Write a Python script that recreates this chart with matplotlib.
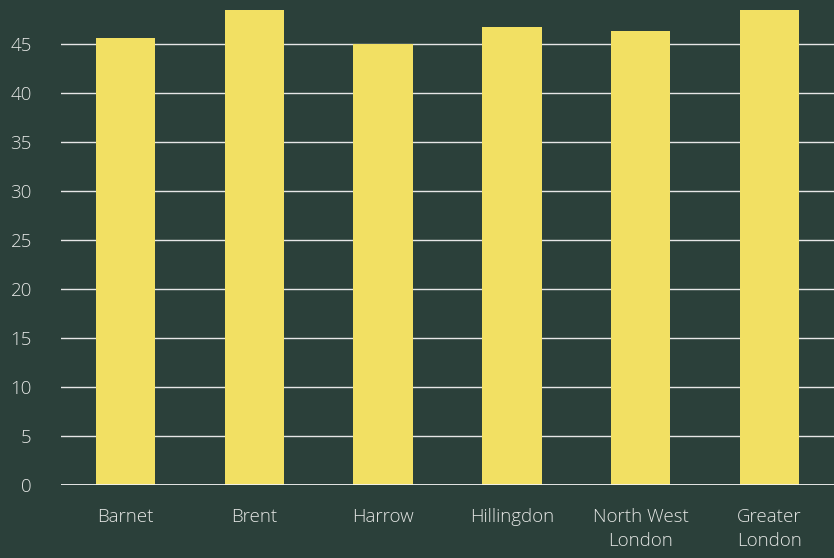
import matplotlib
matplotlib.use("Agg")
import matplotlib.pyplot as plt

areas = ["Barnet", "Brent", "Harrow", "Hillingdon", "North West\nLondon", "Greater\nLondon"]
values = [45.6, 49.5, 45.0, 46.8, 46.4, 49.5]
yticks = [0, 5, 10, 15, 20, 25, 30, 35, 40, 45]

bg = "#2b403a"
bar_color = "#f2e063"
text_color = "#e4e6e4"

plt.rcParams["font.family"] = ["Open Sans", "DejaVu Sans"]

fig = plt.figure(figsize=(8.34, 5.58), dpi=100, facecolor=bg)
ax = fig.add_axes([61 / 834, 1 - 484.5 / 558, 1 - 61 / 834, (484.5 - 10) / 558])
ax.set_facecolor(bg)

x = list(range(len(areas)))
ax.bar(x, values, width=0.46, color=bar_color, zorder=3)

ax.set_xlim(-0.5, len(areas) - 0.5)
ax.set_ylim(0, 48.5)
ax.set_yticks(yticks)
ax.set_yticklabels([str(t) for t in yticks])
ax.set_xticks(x)
ax.set_xticklabels(areas, linespacing=1.45)

ax.grid(axis="y", color="#e6e6e6", linewidth=1.0, zorder=1)
ax.axhline(0, color="#f2f2f2", linewidth=2, zorder=4)
for s in ax.spines.values():
    s.set_visible(False)

ax.tick_params(axis="y", length=0, pad=21, labelsize=13.5, labelcolor=text_color)
ax.tick_params(axis="x", length=0, pad=17, labelsize=13.5, labelcolor=text_color)
for lab in ax.get_xticklabels() + ax.get_yticklabels():
    lab.set_fontweight("light")

fig.savefig("out.png", dpi=100, facecolor=bg)
